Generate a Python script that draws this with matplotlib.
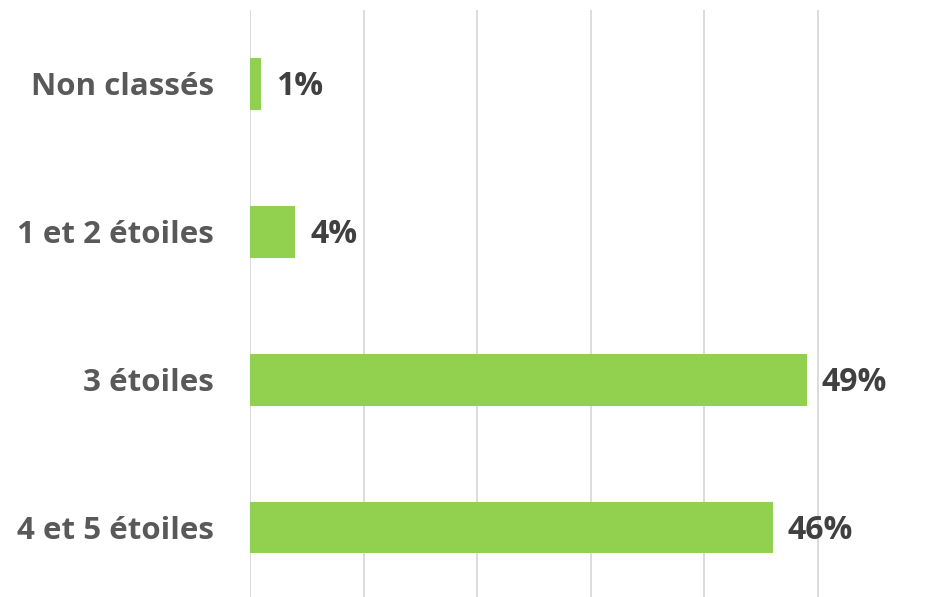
import matplotlib.pyplot as plt

categories = ['Non classés', '1 et 2 étoiles', '3 étoiles', '4 et 5 étoiles']
values = [1, 4, 49, 46]
labels = ['1%', '4%', '49%', '46%']

plt.rcParams['font.family'] = ['Open Sans', 'DejaVu Sans']

fig = plt.figure(figsize=(9.27, 5.97), dpi=100)
ax = fig.add_axes([250 / 927, 0, 676 / 927, 587 / 597])

pos = range(len(categories))
ax.barh(pos, values, height=0.35, color='#92d050', zorder=2)

# value labels just right of each bar
for p, v, lab in zip(pos, values, labels):
    ax.text(v + 1.3, p + 0.02, lab, va='center', ha='left', fontsize=23,
            fontweight='bold', color='#404040')

ax.set_xlim(0, 59.5)
ax.set_ylim(3.47, -0.5)
ax.set_xticks([0, 10, 20, 30, 40, 50])
ax.set_xticklabels([])
ax.tick_params(axis='x', length=0)
ax.tick_params(axis='y', length=0, pad=26)
ax.set_yticks(list(pos))
ax.set_yticklabels(categories, fontsize=22.5, fontweight='bold', color='#595959')
ax.grid(axis='x', color='#d9d9d9', linewidth=1.3, zorder=0)
for s in ax.spines.values():
    s.set_visible(False)

fig.savefig('out.png', dpi=100)
